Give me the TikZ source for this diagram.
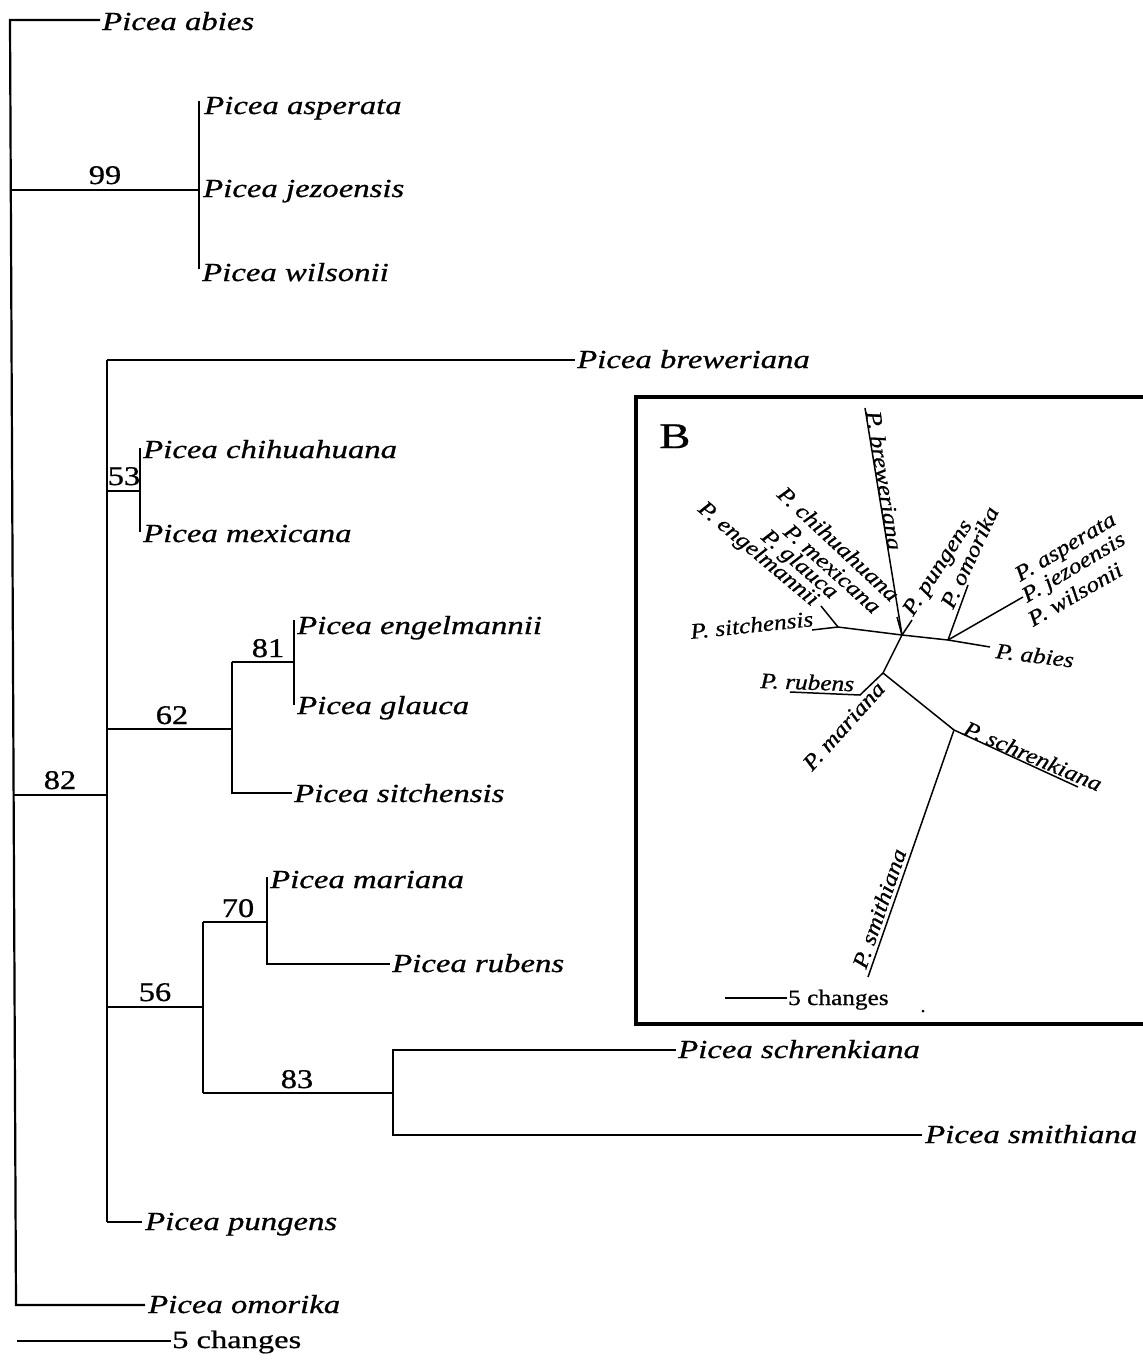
\documentclass[tikz,border=0pt]{standalone}
\usepackage{fontspec}
\setmainfont{Liberation Serif}
\newfontfamily\labfam{Liberation Serif}[FakeBold=0.7]
\usepackage{graphicx}
\newcommand\splab[1]{\scalebox{1.26}[1]{\labfam\itshape #1}}
\newcommand\inlab[1]{\scalebox{1.15}[1]{\labfam\itshape #1}}
\newcommand\bsnum[1]{\scalebox{1.2}[1]{\labfam #1}}
\newcommand\uplab[1]{\scalebox{1.3}[1]{\labfam #1}}
\begin{document}
\begin{tikzpicture}[x=1pt,y=-1pt,
  br/.style={line width=2.2pt},
  ibr/.style={line width=1.5pt},
  boxline/.style={line width=3.2pt},
  sp/.style={anchor=base west, inner sep=0pt, font=\fontsize{26}{30}\selectfont},
  bs/.style={anchor=base, inner sep=0pt, font=\fontsize{27}{30}\selectfont},
  ip/.style={anchor=base west, inner sep=0pt, font=\fontsize{22}{24}\selectfont},
  ipe/.style={anchor=base east, inner sep=0pt, font=\fontsize{22}{24}\selectfont}]
\useasboundingbox (0,0) rectangle (1143,1360);
% ---------------- main tree ----------------
\coordinate (rt) at (10,20);
\coordinate (rb) at (16,1305);
\coordinate (r99) at (10.8,190);
\coordinate (r82) at (13.6,795);
\coordinate (abT) at (100,20);
\coordinate (omT) at (145,1305);
\draw[br] (abT) -- (rt) -- (rb) -- (omT);
% 99 clade
\coordinate (n99) at (199,190);
\coordinate (n99a) at (199,101);
\coordinate (n99w) at (199,269);
\draw[br] (r99) -- (n99);
\draw[br] (n99a) -- (n99w);
% 82 clade
\coordinate (n82) at (107,795);
\coordinate (n82t) at (107,360);
\coordinate (n82b) at (107,1222);
\draw[br] (r82) -- (n82);
\draw[br] (n82t) -- (n82b);
\coordinate (brT) at (575,360);
\draw[br] (n82t) -- (brT);
% 53 clade
\coordinate (s53) at (107,491);
\coordinate (n53) at (140,491);
\coordinate (n53a) at (140,448);
\coordinate (n53b) at (140,532);
\draw[br] (s53) -- (n53);
\draw[br] (n53a) -- (n53b);
% 62 clade
\coordinate (s62) at (107,729);
\coordinate (n62) at (232,729);
\coordinate (n62a) at (232,662);
\coordinate (n62b) at (232,793);
\coordinate (siT) at (292,793);
\draw[br] (s62) -- (n62);
\draw[br] (n62a) -- (n62b) -- (siT);
\coordinate (n81) at (294,662);
\coordinate (n81a) at (294,620);
\coordinate (n81b) at (294,705);
\draw[br] (n62a) -- (n81);
\draw[br] (n81a) -- (n81b);
% 56 clade
\coordinate (s56) at (107,1007);
\coordinate (n56) at (203,1007);
\coordinate (n56a) at (203,922);
\coordinate (n56b) at (203,1093);
\draw[br] (s56) -- (n56);
\draw[br] (n56a) -- (n56b);
\coordinate (n70) at (267,922);
\coordinate (n70a) at (267,877);
\coordinate (n70b) at (267,964);
\coordinate (ruT) at (390,964);
\draw[br] (n56a) -- (n70);
\draw[br] (n70a) -- (n70b) -- (ruT);
\coordinate (n83) at (393,1093);
\coordinate (n83a) at (393,1050);
\coordinate (n83b) at (393,1135);
\coordinate (scT) at (676,1050);
\coordinate (smT) at (922,1135);
\draw[br] (n56b) -- (n83);
\draw[br] (scT) -- (n83a) -- (n83b) -- (smT);
\coordinate (puT) at (142,1222);
\draw[br] (n82b) -- (puT);
% scale bar
\coordinate (sbL) at (17,1341);
\coordinate (sbR) at (171,1341);
\draw[br] (sbL) -- (sbR);
% labels
\node[sp] (Labies) at (102,30) {\splab{Picea abies}};
\node[sp] (Lasp) at (204,114) {\splab{Picea asperata}};
\node[sp] (Ljez) at (203,197) {\splab{Picea jezoensis}};
\node[sp] (Lwil) at (202,281) {\splab{Picea wilsonii}};
\node[sp] (Lbre) at (577,368) {\splab{Picea breweriana}};
\node[sp] (Lchi) at (143,458) {\splab{Picea chihuahuana}};
\node[sp] (Lmex) at (143,542) {\splab{Picea mexicana}};
\node[sp] (Leng) at (297,634) {\splab{Picea engelmannii}};
\node[sp] (Lgla) at (297,714) {\splab{Picea glauca}};
\node[sp] (Lsit) at (294,802) {\splab{Picea sitchensis}};
\node[sp] (Lmar) at (270,888) {\splab{Picea mariana}};
\node[sp] (Lrub) at (392,972) {\splab{Picea rubens}};
\node[sp] (Lsch) at (678,1058) {\splab{Picea schrenkiana}};
\node[sp] (Lsmi) at (925,1143) {\splab{Picea smithiana}};
\node[sp] (Lpun) at (145,1230) {\splab{Picea pungens}};
\node[sp] (Lomo) at (148,1313) {\splab{Picea omorika}};
\node[sp, font=\fontsize{25}{28}\selectfont] (Lsb) at (172,1348) {\uplab{5 changes}};
% bootstrap values
\node[bs] (b99) at (105,184) {\bsnum{99}};
\node[bs] (b82) at (60,789) {\bsnum{82}};
\node[bs] (b53) at (124,485) {\bsnum{53}};
\node[bs] (b62) at (172,724) {\bsnum{62}};
\node[bs] (b81) at (268,657) {\bsnum{81}};
\node[bs] (b56) at (155,1001) {\bsnum{56}};
\node[bs] (b70) at (238,917) {\bsnum{70}};
\node[bs] (b83) at (297,1088) {\bsnum{83}};
% ---------------- inset B ----------------
\coordinate (bxTR) at (1150,397);
\coordinate (bxTL) at (636,397);
\coordinate (bxBL) at (636,1024);
\coordinate (bxBR) at (1150,1024);
\draw[boxline] (bxTR) -- (bxTL) -- (bxBL) -- (bxBR);
\node[anchor=base west, inner sep=0pt, font=\fontsize{36}{38}\selectfont] (LB) at (659,448) {\scalebox{1.3}[1]{\labfam B}};
\coordinate (C1) at (902,635);
\coordinate (C2) at (948,640);
\coordinate (C3) at (883,673);
\coordinate (C4) at (954,730);
\coordinate (N1) at (838,627);
\coordinate (ibrT) at (865,408);
\coordinate (isiT) at (812,630);
\coordinate (iegT) at (821,606);
\coordinate (icmT) at (897,617);
\coordinate (ipgT) at (912,620);
\coordinate (iomT) at (968,585);
\coordinate (iasT) at (1023,597);
\coordinate (iabT) at (990,647);
\coordinate (irbB) at (860,695);
\coordinate (irbT) at (790,692);
\coordinate (iscT) at (1078,787);
\coordinate (ismT) at (868,977);
\draw[ibr] (ibrT) -- (C1);
\draw[ibr] (isiT) -- (N1) -- (C1) -- (C2) -- (iabT);
\draw[ibr] (N1) -- (iegT);
\draw[ibr] (C1) -- (icmT);
\draw[ibr] (C1) -- (ipgT);
\draw[ibr] (C2) -- (iomT);
\draw[ibr] (C2) -- (iasT);
\draw[ibr] (C1) -- (C3) -- (irbB) -- (irbT);
\draw[ibr] (C3) -- (C4) -- (iscT);
\draw[ibr] (C4) -- (ismT);
\node[ipe, rotate=6] (iLsit) at (814,626) {\inlab{P. sitchensis}};
\node[ipe, rotate=-40] (iLeng) at (812,607) {\inlab{P. engelmannii}};
\node[ipe, rotate=-41] (iLgla) at (831,600) {\inlab{P. glauca}};
\node[ipe, rotate=-42] (iLmex) at (873,615) {\inlab{P. mexicana}};
\node[ipe, rotate=-43] (iLchi) at (891,603) {\inlab{P. chihuahuana}};
\node[ip, rotate=-81] (iLbre) at (866,412) {\inlab{P. breweriana}};
\node[ip, rotate=57] (iLpun) at (913,617) {\inlab{P. pungens}};
\node[ip, rotate=65] (iLomo) at (953,610) {\inlab{P. omorika}};
\node[ip, rotate=31] (iLasp) at (1020,582) {\inlab{P. asperata}};
\node[ip, rotate=31] (iLjez) at (1027,603) {\inlab{P. jezoensis}};
\node[ip, rotate=30] (iLwil) at (1033,627) {\inlab{P. wilsonii}};
\node[ip, rotate=-7] (iLabi) at (995,658) {\inlab{P. abies}};
\node[ip, rotate=-2] (iLrub) at (760,688) {\inlab{P. rubens}};
\node[ip, rotate=48] (iLmar) at (812,772) {\inlab{P. mariana}};
\node[ip, rotate=-23] (iLsch) at (962,734) {\inlab{P. schrenkiana}};
\node[ip, rotate=71] (iLsmi) at (866,970) {\inlab{P. smithiana}};
\coordinate (isL) at (725,998);
\coordinate (isR) at (787,998);
\draw[ibr] (isL) -- (isR);
\node[ip] (iLsb) at (788,1005) {\scalebox{1.15}[1]{\labfam 5 changes}};
\fill (923,1011) circle (1.5);
\end{tikzpicture}
\end{document}
